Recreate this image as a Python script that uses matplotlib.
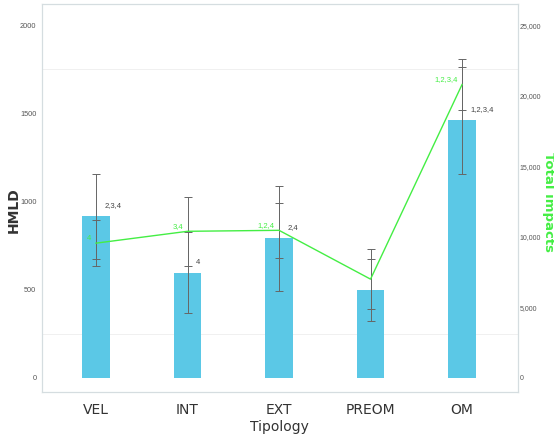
import matplotlib.pyplot as plt
import numpy as np

# Tipology categories
categories = ['VEL', 'INT', 'EXT', 'PREOM', 'OM']

# HMLD (bars, left axis) with standard deviation
hmld = [916, 596, 792, 500, 1461]
hmld_sd = [239, 230, 298, 177, 303]
hmld_sig = ['2,3,4', '4', '2,4', '', '1,2,3,4']

# Total impacts (line, right axis) with standard deviation
impacts = [9550, 10390, 10460, 7000, 20790]
impacts_sd = [1650, 2460, 1970, 2110, 1830]
impacts_sig = ['4', '3,4', '1,2,4', '', '1,2,3,4']

bar_color = '#5bc8e6'
line_color = '#44ee44'
err_color = '#666666'
tick_font = ['Liberation Sans Narrow', 'Liberation Sans', 'DejaVu Sans']

fig = plt.figure(figsize=(5.54, 4.4), dpi=100)
ax = fig.add_axes([0.0758, 0.109, 0.859, 0.882])
ax2 = ax.twinx()

x = np.arange(len(categories))

ax.bar(x, hmld, width=0.3, color=bar_color, zorder=2)
ax.errorbar(x, hmld, yerr=hmld_sd, fmt='none', ecolor=err_color,
            elinewidth=0.7, capsize=3, capthick=0.7, zorder=3)

ax2.plot(x, impacts, color=line_color, linewidth=1.0, zorder=4)
ax2.errorbar(x, impacts, yerr=impacts_sd, fmt='none', ecolor=err_color,
             elinewidth=0.7, capsize=3, capthick=0.7, zorder=3)

# significance labels
for i, s in enumerate(hmld_sig):
    if s:
        ax.text(i + 0.09, hmld[i] + 40, s, fontsize=5.5, color='#444444',
                family=tick_font, ha='left', va='bottom', zorder=5)
for i, s in enumerate(impacts_sig):
    if s:
        ax2.text(i - 0.05, impacts[i] + 350, s, fontsize=5.5, color=line_color,
                 family=tick_font, ha='right', va='center', zorder=5)

ax.set_xlim(-0.59, 4.61)
ax.set_ylim(-80, 2120)
ax2.set_ylim(-1000, 26500)

ax.set_xticks(x)
ax.set_xticklabels(categories, fontsize=10, color='#333333')
ax.set_yticks([0, 500, 1000, 1500, 2000])
ax.set_yticklabels(['0', '500', '1000', '1500', '2000'], fontsize=5.3,
                   color='#555555', family=tick_font)
ax2.set_yticks([0, 5000, 10000, 15000, 20000, 25000])
ax2.set_yticklabels(['0', '5,000', '10,000', '15,000', '20,000', '25,000'],
                    fontsize=5.0, color='#555555', family=tick_font)

ax.tick_params(axis='y', length=0, pad=4)
ax.tick_params(axis='x', length=0, pad=8)
ax2.tick_params(axis='y', length=0, pad=1)

for a in (ax, ax2):
    for sp in a.spines.values():
        sp.set_color('#d5dde0')
        sp.set_linewidth(0.8)

for g in (250, 1750):
    ax.axhline(g, color='#eeeeee', linewidth=0.6, zorder=0)

ax.set_xlabel('Tipology', fontsize=10, color='#333333')
ax.xaxis.set_label_coords(0.5, -0.072)
ax.set_ylabel('HMLD', fontsize=10, fontweight='bold', color='#333333',
              va='center')
ax.yaxis.set_label_coords(-0.06, 0.47)
ax2.set_ylabel('Total impacts', fontsize=9.5, fontweight='bold', color=line_color,
               rotation=270, va='center')
ax2.yaxis.set_label_coords(1.065, 0.49)

fig.savefig('out.png', dpi=100)
